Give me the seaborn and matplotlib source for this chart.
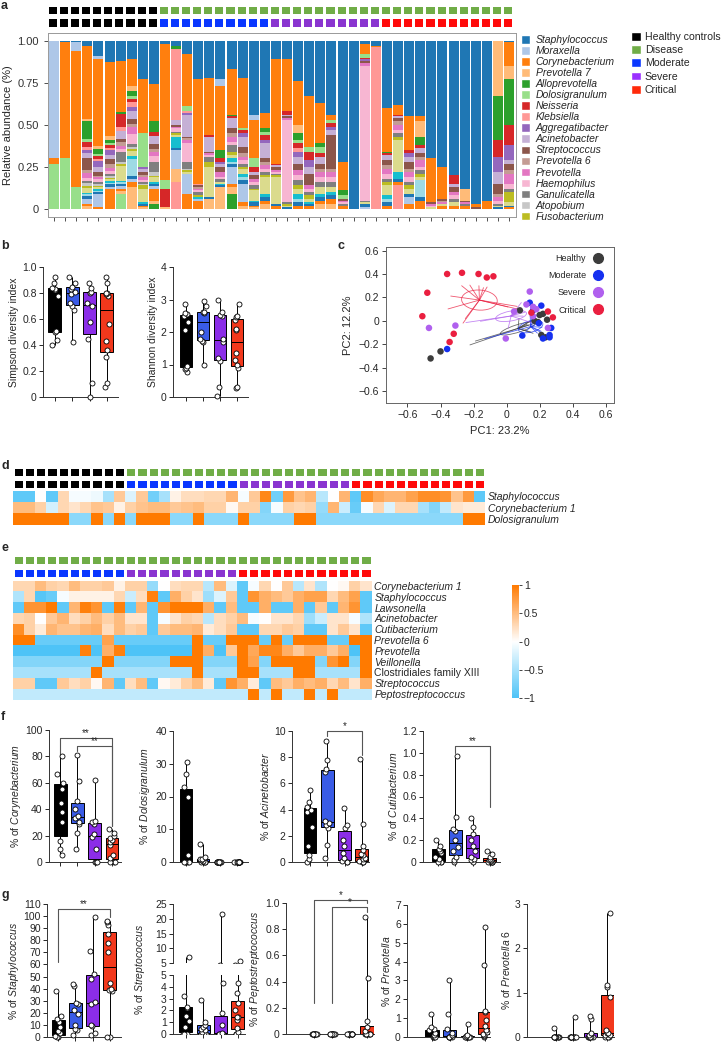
import numpy as np
import pandas as pd
import matplotlib
matplotlib.use('Agg')
import matplotlib.pyplot as plt
from matplotlib.colors import ListedColormap, LinearSegmentedColormap
from matplotlib.patches import Patch, Ellipse
from matplotlib.lines import Line2D
from matplotlib.ticker import FuncFormatter
import seaborn as sns

np.random.seed(7)

# ---------------- data ----------------
groups = ['Healthy', 'Moderate', 'Severe', 'Critical']
group_sizes = [10, 10, 10, 12]

taxa = ['Staphylococcus', 'Moraxella', 'Corynebacterium', 'Prevotella 7', 'Alloprevotella',
        'Dolosigranulum', 'Neisseria', 'Klebsiella', 'Aggregatibacter', 'Acinetobacter',
        'Streptococcus', 'Prevotella 6', 'Prevotella', 'Haemophilus', 'Ganulicatella',
        'Atopobium', 'Fusobacterium']
minor_taxa = ['minor %d' % i for i in range(1, 12)]

# relative abundance (%) per sample, columns = taxa + minor_taxa (top of bar -> bottom)
abundance = [
    [0,70,3,0,0,27,0,0,0,0,0,0,0,0,0,0,0,0,0,0,0,0,0,0,0,0,0,0],
    [1,0,69,0,0,30,0,0,0,0,0,0,0,0,0,0,0,0,0,0,0,0,0,0,0,0,0,0],
    [1,5,81,0,0,13,0,0,0,0,0,0,0,0,0,0,0,0,0,0,0,0,0,0,0,0,0,0],
    [3,0,45,1,11,2,3,2,2,3,7,2,3,2,1,2,1,3,1,1,2,3,1,2,0,0,0,0],
    [9,2,52,2,3,1,2,1,4,3,2,1,1,2,1,1,1,1,1,1,1,8,1,0,0,0,0,0],
    [13,0,45,2,2,1,2,1,3,3,3,2,2,2,1,1,1,1,1,1,2,1,12,0,0,0,0,0],
    [12,0,31,0,1,0,8,2,0,5,2,2,2,2,6,1,1,9,1,1,1,2,1,2,0,9,0,0],
    [11,0,16,3,3,2,2,3,2,5,3,2,4,6,2,1,1,3,2,10,2,2,3,13,0,0,0,0],
    [23,0,32,0,0,20,0,0,1,2,2,1,2,1,1,1,2,8,1,0,1,0,1,1,0,0,0,0],
    [26,0,22,0,7,0,2,0,0,5,3,2,2,4,6,2,1,3,1,0,1,2,7,2,3,0,0,0],
    [2,0,81,0,0,5,11,0,0,0,0,0,0,0,0,0,0,0,0,0,0,0,0,1,0,0,0,0],
    [3,0,0,0,2,0,0,42,0,3,1,0,1,2,1,0,1,1,7,0,1,11,0,8,0,0,0,16],
    [8,0,31,0,0,3,0,1,1,13,1,1,2,11,4,1,1,1,0,0,0,12,9,0,0,0,0,0],
    [23,0,62,0,0,0,0,1,0,0,1,1,1,1,2,0,1,0,1,0,0,1,5,0,0,0,0,0],
    [22,0,34,0,0,0,1,0,0,9,1,0,1,1,3,0,3,18,0,0,1,0,0,6,0,0,0,0],
    [23,4,38,0,5,0,2,0,1,2,3,0,3,1,2,0,0,1,1,0,1,0,0,13,0,0,0,0],
    [17,0,27,0,1,0,1,0,0,6,3,2,3,2,4,0,2,2,2,1,2,10,2,4,9,0,0,0],
    [22,0,30,0,0,1,2,0,2,6,4,2,2,2,2,0,1,3,2,2,2,11,2,2,0,0,0,0],
    [44,3,23,0,0,5,3,0,0,2,2,0,2,2,2,0,1,6,1,0,2,0,1,1,0,0,0,0],
    [43,0,9,0,2,2,3,0,2,9,2,2,2,2,2,0,1,10,2,0,2,0,2,3,0,0,0,0],
    [11,0,62,0,0,0,1,0,0,1,2,0,1,1,1,0,1,16,0,0,1,0,2,0,0,0,0,0],
    [11,0,31,0,0,0,2,0,0,1,1,0,1,49,1,0,1,1,0,0,1,0,0,0,0,0,0,0],
    [24,0,26,5,4,2,3,2,3,4,4,0,3,3,3,0,2,3,3,2,2,0,2,0,0,0,0,0],
    [33,0,30,0,0,3,5,0,4,4,7,0,2,2,2,0,2,2,1,0,1,0,2,0,0,0,0,0],
    [37,0,24,0,2,4,2,0,0,4,3,2,3,3,3,0,0,4,2,0,2,0,2,3,0,0,0,0],
    [44,0,3,0,0,2,2,0,2,3,20,2,3,3,3,0,0,3,2,0,2,0,3,3,0,0,0,0],
    [72,0,17,0,3,2,0,0,0,0,1,0,1,1,1,0,0,0,0,0,0,0,2,0,0,0,0,0],
    [100,0,0,0,0,0,0,0,0,0,0,0,0,0,0,0,0,0,0,0,0,0,0,0,0,0,0,0],
    [2,0,6,0,0,2,1,0,1,0,1,0,2,80,1,0,0,1,0,0,2,1,0,0,0,0,0,0],
    [3,0,1,0,0,0,0,96,0,0,0,0,0,0,0,0,0,0,0,0,0,0,0,0,0,0,0,0],
    [40,0,26,0,1,0,1,0,0,3,3,2,3,3,2,0,2,6,2,2,2,0,2,0,0,0,0,0],
    [38,0,6,0,0,0,1,0,0,1,2,2,3,2,2,0,2,19,4,0,2,0,2,0,0,0,0,14],
    [45,0,20,0,0,0,2,0,2,3,4,2,3,3,2,0,2,3,0,0,2,4,3,0,0,0,0,0],
    [45,0,3,9,5,0,2,0,0,3,2,2,4,2,2,0,2,2,0,10,2,0,5,0,0,0,0,0],
    [70,0,26,0,0,0,0,0,0,0,1,0,1,1,0,0,0,1,0,0,0,0,0,0,0,0,0,0],
    [75,0,19,0,0,0,0,0,0,0,1,1,1,0,0,0,0,1,0,0,0,0,2,0,0,0,0,0],
    [80,0,0,0,0,0,5,0,0,2,3,0,2,2,2,0,0,2,0,0,0,0,2,0,0,0,0,0],
    [88,0,0,7,0,0,0,0,0,0,1,0,1,0,1,0,0,0,0,0,0,0,2,0,0,0,0,0],
    [97,0,2,0,0,0,0,0,0,0,1,0,0,0,0,0,0,0,0,0,0,0,0,0,0,0,0,0],
    [95,0,5,0,0,0,0,0,0,0,0,0,0,0,0,0,0,0,0,0,0,0,0,0,0,0,0,0],
    [0,0,0,33,26,0,10,0,9,7,6,2,2,2,1,0,0,1,0,0,1,0,0,0,0,0,0,0],
    [1,0,14,8,27,0,12,0,9,2,4,2,6,3,2,0,6,2,0,0,1,0,1,0,0,0,0,0],
]

# alpha diversity
simpson = [[0.40,0.44,0.50,0.51,0.78,0.82,0.83,0.84,0.88,0.92],
           [0.42,0.67,0.70,0.72,0.79,0.81,0.83,0.85,0.88,0.92],
           [0.00,0.11,0.45,0.58,0.70,0.72,0.80,0.81,0.84,0.88],
           [0.08,0.11,0.31,0.36,0.43,0.56,0.78,0.79,0.80,0.80,0.88,0.92]]
shannon = [[0.78,0.85,0.90,0.95,2.05,2.30,2.50,2.55,2.60,2.85],
           [0.98,1.68,1.72,1.80,2.00,2.60,2.61,2.63,2.80,2.95],
           [0.02,0.32,1.10,1.20,1.70,1.80,2.48,2.52,2.62,3.00],
           [0.27,0.32,0.90,0.98,1.15,1.35,2.05,2.10,2.38,2.45,2.50,2.85]]

# PCoA coordinates
pc1 = [[0.08,0.20,0.245,0.19,0.21,0.235,-0.40,-0.46,0.22,0.17],
       [0.14,0.21,0.16,0.195,0.27,0.26,0.22,0.095,-0.36,0.26],
       [0.14,0.045,0.12,0.16,-0.47,-0.31,-0.005,0.25,0.16,0.18],
       [-0.36,-0.27,-0.17,-0.12,-0.08,-0.48,-0.51,-0.32,-0.345,0.15,0.25,0.28]]
pc2 = [[0.09,0.05,0.01,-0.01,-0.12,-0.14,-0.26,-0.32,0.06,0.0],
       [0.155,0.13,0.09,-0.02,-0.06,-0.12,-0.15,-0.125,-0.24,-0.14],
       [0.25,0.08,0.14,0.12,-0.06,-0.04,-0.15,-0.06,0.04,0.10],
       [0.40,0.41,0.40,0.37,0.38,0.24,0.04,-0.11,-0.18,0.07,0.08,0.03]]

# correlation heatmap d (all 42 samples)
d_taxa = ['Staphylococcus', 'Corynebacterium 1', 'Dolosigranulum']
d_values = [
    [-0.9,-0.9,0.0,-0.9,0.3,-0.05,-0.05,-0.1,-0.5,0.4,-0.2,0.4,-0.8,-0.5,0.1,0.25,0.25,0.3,0.3,0.55,-0.05,
     0.4,0.9,-0.8,0.75,0.45,0.55,-0.4,0.0,0.55,-0.9,0.85,0.65,0.55,0.55,0.7,0.85,0.85,0.8,0.45,0.75,-0.9],
    [0.5,0.5,0.35,-0.25,0.3,0.2,0.3,0.45,0.4,0.1,0.35,0.45,0.5,0.5,0.4,0.45,0.5,0.35,0.35,0.05,0.35,
     0.35,-0.7,-0.05,0.35,0.3,0.35,-0.6,0.55,-0.3,-0.85,-0.05,0.3,-0.2,0.3,0.3,-0.5,-0.7,-0.35,0.2,0.15,0.15],
    [1,1,1,1,1,-0.65,-0.65,1,-0.65,1,-0.65,1,1,1,-0.65,-0.65,1,-0.65,-0.65,-0.65,1,
     -0.65,-0.65,-0.65,-0.65,1,1,-0.65,-0.65,-0.65,-0.65,-0.65,-0.65,-0.65,-0.65,-0.65,-0.65,-0.65,-0.65,-0.65,1,1],
]

# correlation heatmap e (32 patients)
e_taxa = ['Corynebacterium 1', 'Staphylococcus', 'Lawsonella', 'Acinetobacter', 'Cutibacterium',
          'Prevotella 6', 'Prevotella', 'Veillonella', 'Clostridiales family XIII',
          'Streptococcus', 'Peptostreptococcus']
e_values = [
    [0.3,0.3,0.5,0.35,0.3,0.5,0.35,0.35,0.4,0.1,0.35,0.35,-0.6,0.0,0.25,0.3,0.3,-0.4,0.5,-0.2,-0.9,-0.05,0.3,
     0.0,0.4,-0.4,0.2,-0.45,0.0,0.05,0.35,0.2],
    [-0.45,0.3,-0.95,-0.85,-0.05,0.1,0.1,0.1,0.1,0.3,-0.3,0.25,0.95,-0.9,0.6,0.35,0.2,-0.55,-0.2,0.4,-0.9,0.8,0.6,
     0.5,0.4,0.6,0.7,0.7,0.3,0.5,0.7,-0.9],
    [-0.9,0.8,0.8,1.0,-0.9,0.55,0.95,0.8,-0.9,0.95,-0.9,0.55,-0.9,0.8,1,1,1,0.6,-0.9,0.5,-0.9,-0.9,0.6,
     -0.9,-0.9,0.6,-0.9,0.4,-0.9,0.55,0.8,-0.9],
    [0.3,0.35,0.0,0.4,0.55,0.25,0.35,0.5,0.35,0.5,0.2,0.2,-0.9,-0.05,0.2,0.35,0.3,-0.4,0.25,0.35,0.5,-0.05,0.0,
     0.2,0.2,0.3,-0.55,-0.3,0.2,0.2,-0.05,-0.45],
    [0.85,0.35,0.15,0.55,0.45,0.45,0.55,0.6,0.25,0.5,0.35,0.4,-0.9,0.4,0.5,0.5,0.55,0.15,0.25,0.4,-0.9,-0.9,0.3,
     0.3,0.4,0.35,-0.9,-0.9,0.2,0.4,0.2,-0.9],
    [1,1,-0.85,-0.85,-0.85,-0.85,-0.85,-0.85,0.7,-0.85,-0.85,-0.85,-0.85,-0.85,-0.85,-0.85,1,-0.85,-0.85,1,1,1,-0.85,
     1,-0.85,1,1,1,-0.85,-0.85,1,1],
    [-1,-1,-1,-1,-1,-1,0.95,-1,0.6,0.95,-1,-1,-1,-1,-1,-1,1,0.6,-1,0.4,1,0.65,0.9,
     0.9,0.6,0.4,0.6,0.6,0.4,0.6,-1,1],
    [-0.7,-0.7,-0.7,-0.7,-0.7,-0.7,-0.7,-0.7,1,-0.7,-0.7,-0.7,-0.7,-0.7,1,1,1,-0.7,-0.7,-0.7,1,0.7,-0.7,
     1,1,1,1,-0.7,0.8,1,-0.7,1],
    [-0.5,-0.5,-0.5,-0.5,-0.5,-0.5,-0.5,1,-0.5,-0.5,-0.5,-0.5,-0.5,-0.5,-0.5,-0.5,1,-0.5,-0.5,-0.5,1,1,-0.5,
     -0.5,-0.5,1,1,-0.5,-0.5,-0.5,-0.5,1],
    [0.35,0.35,-0.9,-0.9,0.4,0.25,0.35,0.05,0.55,-0.9,0.25,0.5,-0.9,0.05,0.15,0.35,0.5,0.15,-0.9,0.8,0.6,0.15,-0.9,
     0.5,0.4,0.6,0.5,0.6,0.3,0.5,0.2,0.6],
    [-0.35,-0.35,-0.35,-0.35,-0.35,-0.35,-0.35,-0.35,-0.35,-0.35,-0.35,-0.35,-0.35,-0.35,-0.35,-0.35,-0.35,-0.35,
     -0.35,-0.35,-0.35,1,-0.35,1,-0.35,-0.35,1,-0.35,1,-0.35,-0.35,-0.35],
]

# relative abundance of single genera (%)
coryne = [[5,10,16,30,38,45,55,60,67,80], [10,22,29,30,33,35,40,46,61,81],
          [0,0,0,10,19,21,29,30,31,62], [0,0,0,3,5,13,15,17,18,20,22,25]]
dolosi = [[0,0,0,0,0,2,20,23,27,30.5], [0,0,0,0,0.2,0.5,0.8,1,1.5,5.5],
          [0,0,0,0,0,0,0,0,0,0.1], [0,0,0,0,0,0,0,0,0,0,0,0]]
acineto = [[0,0.2,0.5,1.2,2.7,3.8,4.0,4.2,4.6,5.5], [0.3,1.3,2.6,2.8,3.0,3.1,6.9,7.1,7.8,9.2],
           [0,0,0.1,0.3,0.7,1.2,1.7,2.6,2.8,4.1], [0,0,0,0.1,0.2,0.3,0.5,0.6,0.9,1.2,2.9,7.9]]
cuti = [[0,0,0,0.03,0.05,0.08,0.1,0.12,0.15,0.2], [0,0.02,0.05,0.1,0.14,0.2,0.28,0.3,0.41,0.97],
        [0,0.02,0.03,0.05,0.1,0.15,0.2,0.26,0.32,0.4], [0,0,0,0,0,0.01,0.02,0.02,0.03,0.05,0.07,0.1]]
staph = [[0,0,1,3,5,8,12,15,17,38], [2,6,7,10,19,22,27,28,42,44],
         [2,3,9,10,27,29,48,52,71,99], [0,0,38,39,40,45,70,78,85,93,95,96]]
strepto = [[0,0,0,0.6,1.1,1.5,2.2,2.3,3.2,6.9], [0,0,0.1,0.2,0.3,0.4,0.6,0.8,1.0,2.9],
           [0,0,0,0,0,0.1,0.8,1.8,4.3,21.5], [0,0,0.2,0.5,1.2,1.4,1.4,2.0,2.6,3.5,4.3,5.8]]
pepto = [[0]*10, [0]*10, [0]*10, [0,0,0,0,0,0,0,0.02,0.05,0.1,0.43,0.89]]
prevo = [[0,0,0,0,0.1,0.2,0.35,0.4,0.55,1.2], [0,0,0,0,0,0.1,0.2,0.4,1.2,3.0],
         [0,0,0,0,0,0,0,0.05,0.1,0.7], [0,0.05,0.1,0.15,0.25,0.35,0.6,0.9,1.3,1.38,3.8,5.85]]
prevo6 = [[0,0,0,0,0,0,0,0,0,0.2], [0,0,0,0,0,0,0,0,0,0.45],
          [0,0,0,0,0,0,0.05,0.1,0.4,0.47], [0,0,0,0.05,0.05,0.08,0.1,0.15,0.9,1.12,1.17,2.8]]

# ---------------- style ----------------
sns.set_style('ticks')
plt.rcParams['font.family'] = ['Liberation Sans', 'DejaVu Sans']
plt.rcParams['mathtext.fontset'] = 'custom'
plt.rcParams['mathtext.rm'] = 'Liberation Sans'
plt.rcParams['mathtext.it'] = 'Liberation Sans:italic'
plt.rcParams['axes.linewidth'] = 0.7
plt.rcParams['axes.edgecolor'] = '#333333'

W, H = 724, 1042
fig = plt.figure(figsize=(W / 100, H / 100), dpi=100)


def px(x0, y0, x1, y1):
    return [x0 / W, 1 - y1 / H, (x1 - x0) / W, (y1 - y0) / H]


def fmt(dec):
    return FuncFormatter(lambda v, _: '0' if abs(v) < 1e-9 else f'{v:.{dec}f}'.replace('-', '\u2212'))


taxa_colors = sns.color_palette('tab20') + sns.color_palette('tab20')[:8]
disease_green = '#70ad47'
box_colors = ['#000000', '#3a5be6', '#8b2de8', '#f2381c']
pc_colors = ['#3c3c3c', '#1530f0', '#b060ee', '#ea1f40']
hm_cmap = LinearSegmentedColormap.from_list('bw_or', ['#4ec3f7', '#ffffff', '#ff7a00'])
strip_cmap = ListedColormap(['#000000', disease_green, '#0a37ff', '#8a35d0', '#ff0a0a'])


def strip(ax, codes):
    sns.heatmap(np.array([codes]), cmap=strip_cmap, vmin=-0.5, vmax=4.5, cbar=False,
                linewidths=0.8, linecolor='white', xticklabels=False, yticklabels=False, ax=ax)


def label(x, y, s):
    fig.text(x / W, 1 - y / H, s, fontsize=9, fontweight='bold', va='top', ha='left')


# ---------------- panel a ----------------
n = len(abundance)
status = sum([[i] * k for i, k in enumerate(group_sizes)], [])
strip(fig.add_axes(px(46.7, 4.7, 513.3, 14.7)), [0 if s == 0 else 1 for s in status])
strip(fig.add_axes(px(46.7, 17.3, 513.3, 28)), [0 if s == 0 else s + 1 for s in status])

all_taxa = taxa + minor_taxa
long = pd.DataFrame([(i, t, abundance[i][j]) for i in range(n) for j, t in enumerate(all_taxa)],
                    columns=['sample', 'taxon', 'abund'])
ax_a = fig.add_axes(px(47.7, 32.7, 516, 217))
sns.histplot(data=long, x='sample', weights='abund', hue='taxon', hue_order=all_taxa,
             multiple='fill', discrete=True, shrink=0.9, palette=taxa_colors, linewidth=0,
             alpha=1, legend=False, ax=ax_a)
ax_a.set_xlim(-0.57, n - 0.37)
ax_a.set_ylim(-0.048, 1.048)
ax_a.set_xticks(range(n))
ax_a.set_xticklabels([])
ax_a.set_yticks([0, 0.25, 0.5, 0.75, 1.0])
ax_a.yaxis.set_major_formatter(fmt(2))
ax_a.set_xlabel('')
ax_a.set_ylabel('Relative abundance (%)', fontsize=8, labelpad=3)
ax_a.tick_params(length=3, width=0.6, labelsize=8, colors='#333333')
for sp in ax_a.spines.values():
    sp.set_color('#999999')

fig.legend([Patch(facecolor=taxa_colors[i]) for i in range(len(taxa))], taxa,
           loc='upper left', bbox_to_anchor=(521 / W, 1 - 35 / H), frameon=False,
           prop={'style': 'italic', 'size': 7.5}, handlelength=0.9, handleheight=0.9,
           handletextpad=0.5, labelspacing=0.1, borderaxespad=0, borderpad=0)
fig.legend([Patch(facecolor=c) for c in ['#000000', disease_green, '#0a37ff', '#9b30ff', '#ff2a0a']],
           ['Healthy controls', 'Disease', 'Moderate', 'Severe', 'Critical'],
           loc='upper left', bbox_to_anchor=(631 / W, 1 - 32 / H), frameon=False, fontsize=7.6,
           handlelength=0.9, handleheight=0.9, handletextpad=0.4, labelspacing=0.3,
           borderaxespad=0, borderpad=0)
label(1, 0, 'a')


# ---------------- box panels ----------------
def box_panel(ax, values, ylim, yticks, dec, ylabel, xlim):
    df = pd.DataFrame([(g, v) for g, vals in zip(groups, values) for v in vals],
                      columns=['group', 'value'])
    sns.boxplot(data=df, x='group', y='value', hue='group', order=groups, hue_order=groups,
                palette=box_colors, whis=(0, 100), width=0.75, saturation=1, linewidth=0.7,
                linecolor='black', showcaps=False, fliersize=0, legend=False, ax=ax)
    sns.stripplot(data=df, x='group', y='value', order=groups, color='white', edgecolor='black',
                  linewidth=0.6, size=3.6, jitter=0.17, ax=ax)
    for c in ax.collections:
        c.set_clip_on(False)
    ax.set_ylim(*ylim)
    ax.set_yticks(yticks)
    ax.yaxis.set_major_formatter(fmt(dec))
    ax.set_xlim(*xlim)
    ax.set_xticks(range(4))
    ax.set_xticklabels([])
    ax.set_xlabel('')
    ax.set_ylabel(ylabel, fontsize=7.5, labelpad=2)
    sns.despine(ax=ax)
    ax.tick_params(length=3, width=0.7, labelsize=7.5, pad=1.5)


def bracket(ax, x1, x2, y, yl, yr, text):
    ax.plot([x1, x1, x2, x2], [yl, y, y, yr], color='#555555', lw=0.8, clip_on=False)
    ax.text((x1 + x2) / 2, y, text, ha='center', va='bottom', fontsize=7, clip_on=False)


label(1, 240, 'b')
box_panel(fig.add_axes(px(43, 267, 118, 397)), simpson, (0, 1), np.arange(0, 1.01, 0.2), 1,
          'Simpson diversity index', (-0.69, 3.64))
box_panel(fig.add_axes(px(173, 267, 248, 397)), shannon, (0, 4), range(5), 0,
          'Shannon diversity index', (-0.76, 3.65))

# ---------------- panel c ----------------
label(338, 240, 'c')
ax_c = fig.add_axes(px(386, 247, 614, 403))
pc_df = pd.DataFrame([(g, x, y) for g, xs, ys in zip(groups, pc1, pc2) for x, y in zip(xs, ys)],
                     columns=['group', 'PC1', 'PC2'])
for g, col in zip(groups, pc_colors):
    sub = pc_df[pc_df.group == g]
    cx, cy = sub.PC1.mean(), sub.PC2.mean()
    for x, y in zip(sub.PC1, sub.PC2):
        ax_c.plot([cx, cx + 0.55 * (x - cx)], [cy, cy + 0.55 * (y - cy)], color=col, lw=0.6,
                  alpha=0.75, zorder=1)
    cov = np.cov(sub.PC1, sub.PC2)
    evals, evecs = np.linalg.eigh(cov)
    ang = np.degrees(np.arctan2(evecs[1, 1], evecs[0, 1]))
    ax_c.add_patch(Ellipse((cx, cy), 0.8 * np.sqrt(evals[1]), 0.8 * np.sqrt(evals[0]), angle=ang,
                           fill=False, ec=col, lw=0.6, alpha=0.75, zorder=1))
sns.scatterplot(data=pc_df, x='PC1', y='PC2', hue='group', hue_order=groups, palette=pc_colors,
                s=22, linewidth=0, legend=False, ax=ax_c, zorder=3)
ax_c.set_xlim(-0.73, 0.65)
ax_c.set_ylim(-0.70, 0.63)
ax_c.set_xticks(np.arange(-0.6, 0.61, 0.2))
ax_c.set_yticks(np.arange(-0.6, 0.61, 0.2))
ax_c.xaxis.set_major_formatter(fmt(1))
ax_c.yaxis.set_major_formatter(fmt(1))
ax_c.set_xlabel('PC1: 23.2%', fontsize=8)
ax_c.set_ylabel('PC2: 12.2%', fontsize=8)
ax_c.tick_params(length=3, width=0.6, labelsize=7.5, pad=2)
for sp in ax_c.spines.values():
    sp.set_color('#666666')
ax_c.legend([Line2D([], [], marker='o', ls='', color=c, markersize=7) for c in pc_colors],
            ['Healthy', 'Moderate', 'Severe', 'Critical'], loc='upper right', frameon=False,
            markerfirst=False, fontsize=6.5, handletextpad=0.3, labelspacing=0.9,
            borderaxespad=0.4)

# ---------------- panel d ----------------
label(1, 460, 'd')
strip(fig.add_axes(px(12.6, 466.7, 485, 476.5)), [0 if s == 0 else 1 for s in status])
strip(fig.add_axes(px(12.6, 479, 485, 489)), [0 if s == 0 else s + 1 for s in status])
ax_d = fig.add_axes(px(12.6, 490.5, 485, 524.5))
sns.heatmap(np.array(d_values), cmap=hm_cmap, vmin=-1, vmax=1, cbar=False, xticklabels=False,
            yticklabels=d_taxa, ax=ax_d)
ax_d.yaxis.tick_right()
ax_d.tick_params(axis='y', length=0, labelsize=7.5, pad=2)
for t in ax_d.get_yticklabels():
    t.set_rotation(0)
    t.set_style('italic')

# ---------------- panel e ----------------
label(1, 542, 'e')
status_e = status[10:]
strip(fig.add_axes(px(12.6, 555, 371.5, 565)), [1] * len(status_e))
strip(fig.add_axes(px(12.6, 568, 371.5, 578)), [s + 1 for s in status_e])
ax_e = fig.add_axes(px(12.6, 580.5, 371.5, 699.5))
cax = fig.add_axes(px(512, 585, 519, 698))
sns.heatmap(np.array(e_values), cmap=hm_cmap, vmin=-1, vmax=1, cbar=True, cbar_ax=cax,
            cbar_kws={'ticks': [-1, -0.5, 0, 0.5, 1]}, xticklabels=False, yticklabels=e_taxa, ax=ax_e)
ax_e.yaxis.tick_right()
ax_e.tick_params(axis='y', length=0, labelsize=7.5, pad=2)
for t in ax_e.get_yticklabels():
    t.set_rotation(0)
    if not t.get_text().startswith('Clostridiales'):
        t.set_style('italic')
cax.yaxis.set_major_formatter(FuncFormatter(lambda v, _: f'{v:g}'.replace('-', '\u2212')))
cax.tick_params(labelsize=7.5, length=2, width=0.6, pad=1.5)
cbar = ax_e.collections[0].colorbar
if cbar is not None:
    cbar.outline.set_visible(False)

# ---------------- panel f ----------------
label(1, 711, 'f')
ax = fig.add_axes(px(49, 730, 121, 862))
box_panel(ax, coryne, (0, 100), range(0, 101, 20), 0, r'% of $\it{Corynebacterium}$', (-0.64, 3.52))
bracket(ax, 0, 3, 94, 81, 27, '**')
bracket(ax, 1, 3, 88, 84, 27, '**')
ax = fig.add_axes(px(173, 731, 248, 862))
box_panel(ax, dolosi, (0, 40), range(0, 41, 10), 0, r'% of $\it{Dolosigranulum}$', (-0.76, 3.65))
ax = fig.add_axes(px(292, 731, 369, 862))
box_panel(ax, acineto, (0, 10), range(0, 11, 2), 0, r'% of $\it{Acinetobacter}$', (-1.04, 3.41))
bracket(ax, 1, 3, 10, 9.6, 8.2, '*')
ax = fig.add_axes(px(423, 731, 500, 862))
box_panel(ax, cuti, (0, 1.2), np.arange(0, 1.21, 0.2), 1, r'% of $\it{Cutibacterium}$', (-0.87, 3.58))
bracket(ax, 1, 3, 1.064, 1.0, 0.5, '**')

# ---------------- panel g ----------------
label(1, 889, 'g')
ax = fig.add_axes(px(47, 904, 121, 1037))
box_panel(ax, staph, (0, 110), range(0, 111, 10), 0, r'% of $\it{Staphylococcus}$', (-0.64, 3.64))
bracket(ax, 0, 3, 105.8, 62, 99, '**')

ax_top = fig.add_axes(px(173, 904, 245, 963))
box_panel(ax_top, strepto, (5, 25), range(5, 26, 5), 0, '', (-0.75, 3.41))
ax_top.spines['bottom'].set_visible(False)
ax_top.tick_params(axis='x', length=0)
for c in ax_top.collections:
    c.set_clip_on(True)
ax_bot = fig.add_axes(px(173, 975, 245, 1034))
box_panel(ax_bot, strepto, (0, 5), range(0, 6), 0, '', (-0.75, 3.41))
for c in ax_bot.collections:
    c.set_clip_on(True)
fig.text(140 / W, 1 - 969 / H, r'% of $\it{Streptococcus}$', rotation=90, fontsize=7.5,
         ha='center', va='center')

ax = fig.add_axes(px(286, 903, 374, 1034))
box_panel(ax, pepto, (0, 1.0), np.arange(0, 1.01, 0.2), 1, r'% of $\it{Peptostreptococcus}$', (-1.58, 3.39))
bracket(ax, 0, 3, 1.02, 0.24, 1.0, '*')
bracket(ax, 1, 3, 0.97, 0.24, 0.93, '*')
ax = fig.add_axes(px(407, 905, 490, 1037))
box_panel(ax, prevo, (0, 7), range(0, 8), 0, r'% of $\it{Prevotella}$', (-1.41, 3.28))
ax = fig.add_axes(px(527, 904, 614, 1037))
box_panel(ax, prevo6, (0, 3), range(0, 4), 0, r'% of $\it{Prevotella\ 6}$', (-1.7, 3.4))

fig.savefig('out.png', dpi=100)
